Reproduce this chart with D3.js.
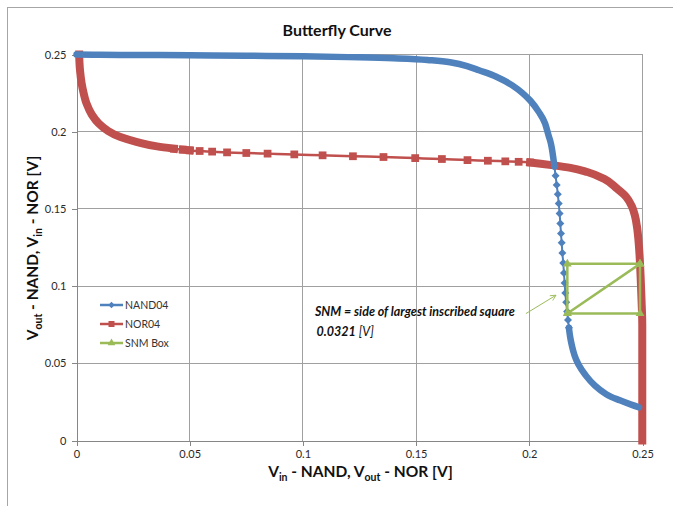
<!DOCTYPE html>
<html>
<head>
<meta charset="utf-8">
<script src="https://cdn.jsdelivr.net/npm/d3@7"></script>
<style>
  body { margin: 0; background: #fff; }
  svg { display: block; font-family: Lato, "Open Sans", sans-serif; }
</style>
</head>
<body>
<div id="chart"></div>
<script>
// series names as shown in the legend
var seriesNames = ["NAND04", "NOR04", "SNM Box"];

// NAND04: Vin sweep (x) -> Vout (y)
var nandX = [0, 0.01, 0.025, 0.05, 0.075, 0.1, 0.12, 0.14, 0.155, 0.165,
  0.1725, 0.1778, 0.1852, 0.1925, 0.197, 0.2004, 0.2041, 0.207, 0.2085, 0.2096,
  0.2101, 0.2106, 0.2111, 0.2116, 0.2121, 0.2126, 0.213, 0.2134, 0.2137, 0.214,
  0.2143, 0.2146, 0.215, 0.2153, 0.2156, 0.2159, 0.2163, 0.2167, 0.2171, 0.2175,
  0.218, 0.2188, 0.22, 0.222, 0.225, 0.229, 0.234, 0.24, 0.245, 0.2485];
var nandY = [0.25, 0.2498, 0.2497, 0.2495, 0.2492, 0.2488, 0.2483, 0.2476, 0.2465, 0.245,
  0.2425, 0.2398, 0.2358, 0.23, 0.225, 0.2202, 0.213, 0.2052, 0.1976, 0.192,
  0.188, 0.183, 0.1775, 0.1715, 0.1655, 0.1595, 0.1535, 0.147, 0.1405, 0.134,
  0.128, 0.1215, 0.115, 0.1085, 0.102, 0.0955, 0.0895, 0.0835, 0.078, 0.073,
  0.0675, 0.0615, 0.055, 0.0485, 0.042, 0.0355, 0.03, 0.026, 0.0232, 0.0215];

// NOR04: Vin sweep (y) -> Vout (x)
var norX = [0.2499, 0.2499, 0.2499, 0.2499, 0.2496, 0.2492, 0.2487, 0.2482, 0.2476,
  0.2466, 0.2452, 0.2427, 0.2388, 0.2329, 0.2256, 0.2182, 0.2108, 0.205, 0.2004,
  0.1953, 0.1894, 0.1817, 0.1727, 0.1614, 0.1496, 0.1356, 0.1221, 0.1087, 0.0962,
  0.0844, 0.075, 0.0665, 0.0599, 0.0544, 0.05, 0.047, 0.043, 0.0356, 0.0268,
  0.0194, 0.0136, 0.0099, 0.0068, 0.0045, 0.003, 0.0022, 0.0016, 0.0013, 0.0012];
var norY = [0, 0.025, 0.05, 0.075, 0.09, 0.105, 0.12, 0.13, 0.138,
  0.146, 0.152, 0.158, 0.1631, 0.1696, 0.1739, 0.1766, 0.1782, 0.1793, 0.1801,
  0.1805, 0.1808, 0.1812, 0.1816, 0.1823, 0.1829, 0.1836, 0.1841, 0.1847, 0.1853,
  0.1858, 0.1862, 0.1866, 0.1871, 0.1875, 0.1879, 0.1884, 0.189, 0.1905, 0.1933,
  0.1965, 0.2008, 0.2052, 0.211, 0.218, 0.226, 0.232, 0.239, 0.245, 0.25];

// SNM box corners (square plus diagonal)
var snmX = [0.2168, 0.2168, 0.2489, 0.2489, 0.2168, 0.2489];
var snmY = [0.0823, 0.1144, 0.1144, 0.0823, 0.0823, 0.1144];
var snmValue = "0.0321";

var xTicks = [0, 0.05, 0.1, 0.15, 0.2, 0.25];
var xTickLabels = ["0", "0.05", "0.1", "0.15", "0.2", "0.25"];
var yTicks = [0, 0.05, 0.1, 0.15, 0.2, 0.25];
var yTickLabels = ["0", "0.05", "0.1", "0.15", "0.2", "0.25"];

var colors = ["#4f81bd", "#c0504d", "#9bbb59"];

var width = 673, height = 506;
var plot = {left: 76.5, right: 642.5, top: 54.5, bottom: 440.5};

var svg = d3.select("#chart").append("svg")
  .attr("width", width)
  .attr("height", height);

// chart frame
svg.append("rect")
  .attr("x", 7.5).attr("y", 7.5)
  .attr("width", width + 20).attr("height", height + 20)
  .attr("fill", "#fff")
  .attr("stroke", "#a6a6a6");

var x = d3.scaleLinear().domain([0, 0.25]).range([plot.left, plot.right]);
var y = d3.scaleLinear().domain([0, 0.25]).range([plot.bottom, plot.top]);

//gridlines
var grid = svg.append("g").attr("shape-rendering", "crispEdges");
grid.selectAll(".gx").data(xTicks.slice(1))
  .enter().append("line")
  .attr("x1", function(d) { return Math.floor(x(d)) + 0.5; })
  .attr("x2", function(d) { return Math.floor(x(d)) + 0.5; })
  .attr("y1", plot.top).attr("y2", plot.bottom)
  .attr("stroke", "#a0a0a0");
grid.selectAll(".gy").data(yTicks.slice(1))
  .enter().append("line")
  .attr("y1", function(d) { return Math.floor(y(d)) + 0.5; })
  .attr("y2", function(d) { return Math.floor(y(d)) + 0.5; })
  .attr("x1", plot.left).attr("x2", plot.right)
  .attr("stroke", "#a0a0a0");

//axes
svg.append("g")
  .attr("transform", "translate(0," + plot.bottom + ")")
  .call(d3.axisBottom(x).tickValues(xTicks)
    .tickFormat(function(d, i) { return xTickLabels[i]; })
    .tickSize(5).tickSizeOuter(0).tickPadding(5));
svg.append("g")
  .attr("transform", "translate(" + plot.left + ",0)")
  .call(d3.axisLeft(y).tickValues(yTicks)
    .tickFormat(function(d, i) { return yTickLabels[i]; })
    .tickSize(5).tickSizeOuter(0).tickPadding(5));

svg.selectAll(".domain, .tick line").attr("stroke", "#868686").attr("shape-rendering", "crispEdges");
svg.selectAll(".tick text")
  .attr("fill", "#2a2a2a")
  .style("font-size", "11px")
  .style("font-family", "Lato, 'Open Sans', sans-serif");

//titles
svg.append("text")
  .attr("x", 337).attr("y", 36)
  .attr("text-anchor", "middle")
  .style("font-size", "16px").style("font-weight", "bold")
  .attr("fill", "#111")
  .text("Butterfly Curve");

function axisTitle(t, a, b) {
  t.append("tspan").text("V");
  t.append("tspan").attr("dy", 4).style("font-size", "10.5px").text(a);
  t.append("tspan").attr("dy", -4).text(" - NAND, V");
  t.append("tspan").attr("dy", 4).style("font-size", "10.5px").text(b);
  t.append("tspan").attr("dy", -4).text(" - NOR [V]");
}

var xt = svg.append("text")
  .attr("x", (plot.left + plot.right) / 2 + 1).attr("y", 477)
  .attr("text-anchor", "middle")
  .style("font-size", "15.5px").style("font-weight", "bold")
  .attr("fill", "#111");
axisTitle(xt, "in", "out");

var yt = svg.append("text")
  .attr("transform", "translate(38,248) rotate(-90)")
  .attr("text-anchor", "middle")
  .style("font-size", "15.5px").style("font-weight", "bold")
  .attr("fill", "#111");
axisTitle(yt, "out", "in");

//plot border (top and right)
svg.append("path")
  .attr("d", "M" + plot.left + "," + plot.top + "H" + plot.right + "V" + plot.bottom)
  .attr("fill", "none").attr("stroke", "#a0a0a0")
  .attr("shape-rendering", "crispEdges");

// markers
var diamond = d3.symbol(d3.symbolSquare, 32)();
var square = d3.symbol(d3.symbolSquare, 60)();
var triangle = d3.symbol(d3.symbolTriangle, 34)();

// draws a swept series: where the sweep points crowd together the markers
// merge into a solid band, elsewhere thin line plus separate markers
function drawSeries(xs, ys, opt) {
  var pts = xs.map(function(v, i) { return [x(v), y(ys[i])]; });
  var n = pts.length;
  var dense = [];
  for (var i = 0; i < n - 1; i++) {
    var dx = Math.abs(pts[i + 1][0] - pts[i][0]);
    var dy = Math.abs(pts[i + 1][1] - pts[i][1]);
    dense.push(opt.sweep == "x" ? dy < opt.k * dx : dx < opt.k * dy);
  }
  var line = d3.line().curve(opt.curve);
  var g = svg.append("g");

  g.append("path")
    .attr("d", line(pts))
    .attr("fill", "none")
    .attr("stroke", opt.color)
    .attr("stroke-width", opt.lw)
    .attr("stroke-linejoin", "round");

  var runs = [], start = null;
  for (i = 0; i < n - 1; i++) {
    if (dense[i]) { if (start === null) start = i; }
    else if (start !== null) { runs.push([start, i]); start = null; }
  }
  if (start !== null) runs.push([start, n - 1]);

  g.selectAll(".band").data(runs)
    .enter().append("path")
    .attr("d", function(r) { return line(pts.slice(r[0], r[1] + 1)); })
    .attr("fill", "none")
    .attr("stroke", opt.color)
    .attr("stroke-width", opt.band)
    .attr("stroke-linecap", opt.cap)
    .attr("stroke-linejoin", "round");

  var mk = pts.filter(function(p, i) {
    return (i > 0 && !dense[i - 1]) || (i < n - 1 && !dense[i]);
  });
  g.selectAll(".mk").data(mk)
    .enter().append("path")
    .attr("d", opt.symbol)
    .attr("transform", function(p) { return "translate(" + p[0] + "," + p[1] + ")" + opt.rot; })
    .attr("fill", opt.color);
}

drawSeries(norX, norY, {color: colors[1], sweep: "y", k: 9, lw: 2.5, band: 8,
  cap: "square", curve: d3.curveMonotoneY, symbol: square, rot: ""});
drawSeries(nandX, nandY, {color: colors[0], sweep: "x", k: 8, lw: 2, band: 6.5,
  cap: "round", curve: d3.curveMonotoneX, symbol: diamond, rot: " rotate(45)"});

// SNM box
var snmPts = snmX.map(function(v, i) { return [x(v), y(snmY[i])]; });
svg.append("path")
  .attr("d", d3.line()(snmPts))
  .attr("fill", "none")
  .attr("stroke", colors[2])
  .attr("stroke-width", 2.5)
  .attr("stroke-linejoin", "round");
svg.selectAll(".snm").data(snmPts)
  .enter().append("path")
  .attr("d", triangle)
  .attr("transform", function(p) { return "translate(" + p[0] + "," + p[1] + ")"; })
  .attr("fill", colors[2]);

//legend
var legendSymbols = [
  [d3.symbol(d3.symbolSquare, 20)(), " rotate(45)"],
  [d3.symbol(d3.symbolSquare, 36)(), ""],
  [d3.symbol(d3.symbolTriangle, 26)(), ""]
];
var legend = svg.selectAll(".legend").data(seriesNames)
  .enter().append("g")
  .attr("transform", function(d, i) { return "translate(100," + (305 + i * 19) + ")"; });
legend.append("line")
  .attr("x1", 0).attr("x2", 23)
  .attr("stroke", function(d, i) { return colors[i]; })
  .attr("stroke-width", 2.5);
legend.append("path")
  .attr("d", function(d, i) { return legendSymbols[i][0]; })
  .attr("transform", function(d, i) { return "translate(11.5,0)" + legendSymbols[i][1]; })
  .attr("fill", function(d, i) { return colors[i]; });
legend.append("text")
  .attr("x", 25).attr("y", 3.5)
  .style("font-size", "10.5px")
  .attr("fill", "#333")
  .text(function(d) { return d; });

//annotation
var ann = svg.append("g");
ann.append("text")
  .attr("x", x(0.1053)).attr("y", y(0.0804))
  .style("font-size", "12.5px").style("font-weight", "bold").style("font-style", "italic")
  .attr("fill", "#111")
  .text("SNM = side of largest inscribed square");
var t2 = ann.append("text")
  .attr("x", x(0.1060)).attr("y", y(0.0679))
  .style("font-size", "12.5px").style("font-style", "italic")
  .attr("fill", "#111");
t2.append("tspan").style("font-weight", "bold").text(snmValue);
t2.append("tspan").text(" [V]");

svg.append("defs").append("marker")
  .attr("id", "arrow")
  .attr("viewBox", "0 0 10 10")
  .attr("refX", 9).attr("refY", 5)
  .attr("markerWidth", 7).attr("markerHeight", 7)
  .attr("orient", "auto")
  .append("path")
  .attr("d", "M1,1 L9,5 L1,9")
  .attr("fill", "none")
  .attr("stroke", "#9bbb59")
  .attr("stroke-width", 1.2);
ann.append("line")
  .attr("x1", x(0.1985)).attr("y1", y(0.0822))
  .attr("x2", x(0.2118)).attr("y2", y(0.0941))
  .attr("stroke", "#9bbb59")
  .attr("stroke-width", 1)
  .attr("marker-end", "url(#arrow)");
</script>
</body>
</html>
